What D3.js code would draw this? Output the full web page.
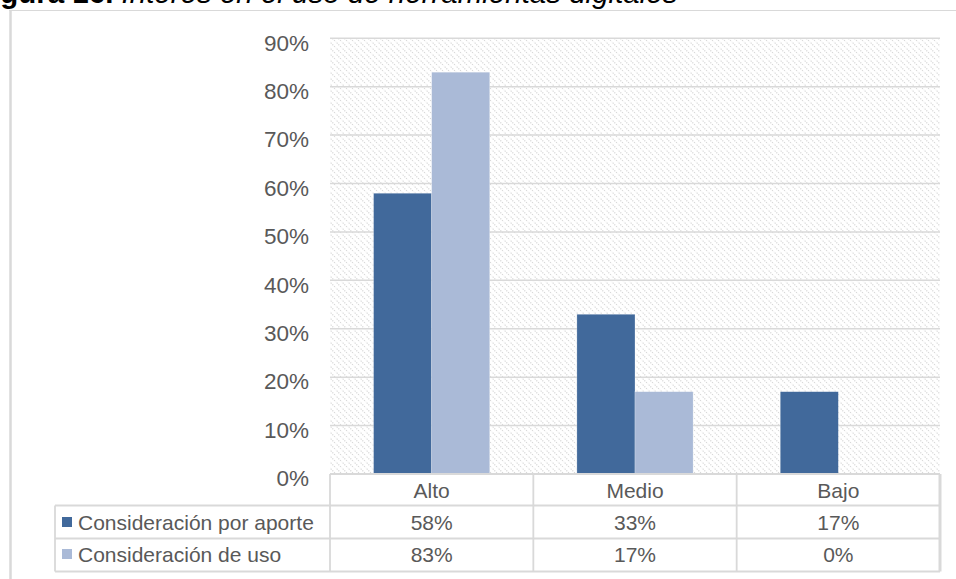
<!DOCTYPE html>
<html>
<head>
<meta charset="utf-8">
<script src="https://cdn.jsdelivr.net/npm/d3@7"></script>
<style>
  body { margin: 0; background: #ffffff; }
  svg { display: block; }
  text { font-family: Arial, "Liberation Sans", sans-serif; }
</style>
</head>
<body>
<svg id="chart" width="956" height="579"></svg>
<script>
// ---- data ----
const categories = ["Alto", "Medio", "Bajo"];
const seriesNames = ["Consideración por aporte", "Consideración de uso"];
const aporteValues = [0.58, 0.33, 0.17];
const usoValues = [0.83, 0.17, 0.00];
const yTicks = [0, 0.1, 0.2, 0.3, 0.4, 0.5, 0.6, 0.7, 0.8, 0.9];
const titleBold = "Figura 16.";
const titleItalic = "Interés en el uso de herramientas digitales";

const seriesValues = [aporteValues, usoValues];
const colors = ["#41699b", "#aabad7"];
const textColor = "#595959";
const gridColor = "#d9d9d9";

const svg = d3.select("#chart");
const W = 956, H = 579;

// layout
const plotLeft = 330, plotRight = 940, plotTop = 38.3, plotBottom = 474;
const rowH = [474, 505.5, 538.5, 571.5];
const legendLeft = 55;

// scales
const y = d3.scaleLinear().domain([0, 0.9]).range([plotBottom, plotTop]);
const x0 = d3.scaleBand().domain(categories).range([plotLeft, plotRight]).paddingInner(0).paddingOuter(0);
const x1 = d3.scaleBand().domain(d3.range(seriesNames.length)).range([0, x0.bandwidth()]).paddingInner(0).paddingOuter(0.75);

// hatch pattern
const defs = svg.append("defs");
const pat = defs.append("pattern").attr("id", "hatch").attr("patternUnits", "userSpaceOnUse")
  .attr("width", 6).attr("height", 6);
pat.append("rect").attr("width", 6).attr("height", 6).attr("fill", "#ffffff");
pat.append("path").attr("d", "M-1,-1 L7,7 M-1,5 L1,7 M5,-1 L7,1")
  .attr("stroke", "#d6d6d6").attr("stroke-width", 1.1).attr("stroke-dasharray", "1.2,1.2");

// frame lines
svg.append("line").attr("x1", 9).attr("x2", W).attr("y1", 10.5).attr("y2", 10.5)
  .attr("stroke", gridColor).attr("stroke-width", 1);
svg.append("line").attr("x1", 10.5).attr("x2", 10.5).attr("y1", 10).attr("y2", H)
  .attr("stroke", gridColor).attr("stroke-width", 2.5);

// title (cut at top, as in the reference)
const title = svg.append("text").attr("x", -26).attr("y", 3).attr("font-size", 29.5).attr("fill", "#000");
title.append("tspan").attr("font-weight", "bold").text(titleBold + " ");
title.append("tspan").attr("font-style", "italic").text(titleItalic);

// plot area background
svg.append("rect").attr("x", plotLeft).attr("y", plotTop).attr("width", plotRight - plotLeft)
  .attr("height", plotBottom - plotTop).attr("fill", "url(#hatch)");

// gridlines
svg.append("g").selectAll("line").data(yTicks).join("line")
  .attr("x1", plotLeft).attr("x2", plotRight)
  .attr("y1", d => y(d)).attr("y2", d => y(d))
  .attr("stroke", gridColor).attr("stroke-width", 1.5);

// y axis labels
const yAxis = d3.axisLeft(y).tickValues(yTicks).tickFormat(d3.format(".0%")).tickSize(0).tickPadding(0);
const yg = svg.append("g").attr("transform", `translate(309,0)`).call(yAxis);
yg.select(".domain").remove();
yg.selectAll("text").attr("font-size", 22.5).attr("fill", textColor)
  .attr("font-family", "Arial, 'Liberation Sans', sans-serif").attr("dy", "0.52em");

// bars
const groups = svg.append("g").selectAll("g").data(categories).join("g")
  .attr("transform", d => `translate(${x0(d)},0)`);
groups.selectAll("rect").data((c, i) => seriesValues.map((vals, s) => ({ s, v: vals[i] })))
  .join("rect")
  .attr("x", d => x1(d.s)).attr("width", x1.bandwidth())
  .attr("y", d => y(d.v)).attr("height", d => y(0) - y(d.v))
  .attr("fill", d => colors[d.s])
  .attr("stroke", d => d.v > 0 ? "#ffffff" : "none").attr("stroke-width", 0.5).attr("stroke-opacity", 0.5);

// data table
const tbl = svg.append("g");
const lineAttrs = sel => sel.attr("stroke", gridColor).attr("stroke-width", 1.8).attr("fill", "none");
tbl.append("line").attr("x1", plotLeft).attr("x2", plotRight).attr("y1", rowH[0]).attr("y2", rowH[0]).call(lineAttrs);
[rowH[1], rowH[2], rowH[3]].forEach(yy => {
  tbl.append("line").attr("x1", legendLeft).attr("x2", plotRight).attr("y1", yy).attr("y2", yy).call(lineAttrs);
});
const colEdges = categories.map(c => x0(c)).concat([plotRight]);
colEdges.forEach((xx, i) => {
  tbl.append("line").attr("x1", xx).attr("x2", xx).attr("y1", rowH[0]).attr("y2", rowH[3])
    .call(lineAttrs).attr("stroke-width", i === colEdges.length - 1 ? 3 : 1.8);
});
tbl.append("line").attr("x1", legendLeft).attr("x2", legendLeft).attr("y1", rowH[1]).attr("y2", rowH[3]).call(lineAttrs);

// category header
tbl.selectAll("text.cat").data(categories).join("text").attr("class", "cat")
  .attr("x", d => x0(d) + x0.bandwidth() / 2).attr("y", 498)
  .attr("text-anchor", "middle").attr("font-size", 21).attr("fill", textColor).text(d => d);

// rows
const rowBase = [530, 562];
seriesNames.forEach((name, s) => {
  tbl.append("rect").attr("x", 62).attr("y", rowBase[s] - 13).attr("width", 10).attr("height", 10)
    .attr("fill", colors[s]);
  tbl.append("text").attr("x", 78).attr("y", rowBase[s]).attr("font-size", 21).attr("fill", textColor).text(name);
  tbl.selectAll(null).data(categories).join("text")
    .attr("x", d => x0(d) + x0.bandwidth() / 2).attr("y", rowBase[s])
    .attr("text-anchor", "middle").attr("font-size", 21).attr("fill", textColor)
    .text((d, i) => d3.format(".0%")(seriesValues[s][i]));
});
</script>
</body>
</html>
